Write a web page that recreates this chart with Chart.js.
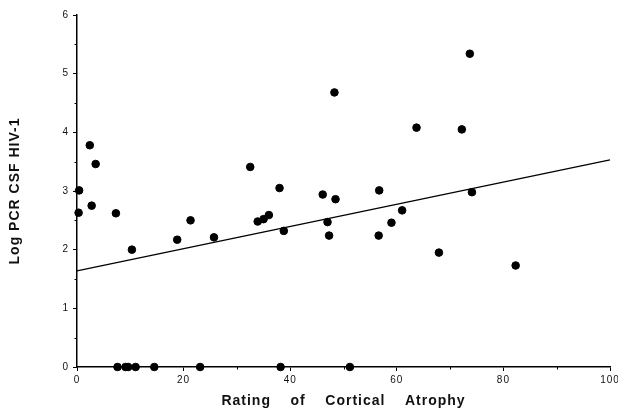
<!DOCTYPE html>
<html>
<head>
<meta charset="utf-8">
<script src="https://cdn.jsdelivr.net/npm/chart.js@4.4.1/dist/chart.umd.min.js"></script>
<style>
  html, body { margin: 0; padding: 0; background: #fff; }
  #wrap { width: 618px; height: 418px; }
</style>
</head>
<body>
<div id="wrap"><canvas id="atrophyChart"></canvas></div>
<script>
// rating of cortical atrophy (x) vs log PCR CSF HIV-1 (y)
const atrophyRating = [
    0.4, 0.3, 2.4, 3.5, 2.75, 7.3, 10.3, 18.8, 21.3, 25.7,
    32.5, 33.9, 35.0, 36.0, 38.0, 38.8, 46.1, 47.0, 47.3, 48.3,
    48.5, 56.6, 56.7, 59.0, 61.0, 63.7, 67.9, 72.2, 73.7, 74.1,
    82.3,
    7.6, 9.1, 9.6, 11.0, 14.5, 23.1, 38.2, 51.2
];
const logPcr = [
    3.01, 2.63, 3.78, 3.46, 2.75, 2.62, 2.00, 2.17, 2.50, 2.21,
    3.41, 2.48, 2.52, 2.59, 3.05, 2.32, 2.94, 2.47, 2.24, 4.68,
    2.86, 2.24, 3.01, 2.46, 2.67, 4.08, 1.95, 4.05, 5.34, 2.98,
    1.73,
    0, 0, 0, 0, 0, 0, 0, 0
];
// fitted line, read at both ends of the x axis
const fitX = [0, 100];
const fitY = [1.64, 3.53];

const xTicks = [0, 20, 40, 60, 80, 100];
const xMinorTicks = [10, 30, 50, 70, 90];
const yTicks = [0, 1, 2, 3, 4, 5, 6];
const yMinorTicks = [0.5, 1.5, 2.5, 3.5, 4.5, 5.5];

const points = atrophyRating.map((x, i) => ({ x: x, y: logPcr[i] }));
const fitLine = fitX.map((x, i) => ({ x: x, y: fitY[i] }));

// the original typesetting is a bit spaced out
const spacedText = {
    id: "spacedText",
    beforeInit(chart) { chart.ctx.letterSpacing = "1px"; },
    beforeDraw(chart) { chart.ctx.letterSpacing = "1px"; }
};

// small minor tick marks on both axes
const minorTicks = {
    id: "minorTicks",
    afterDraw(chart) {
        const c = chart.ctx;
        const xs = chart.scales.x, ys = chart.scales.y;
        c.save();
        c.strokeStyle = "#000";
        c.lineWidth = 1;
        c.beginPath();
        xMinorTicks.forEach(v => {
            const px = Math.round(xs.getPixelForValue(v)) + 0.5;
            c.moveTo(px, ys.bottom);
            c.lineTo(px, ys.bottom + 2.5);
        });
        yMinorTicks.forEach(v => {
            const py = Math.round(ys.getPixelForValue(v)) + 0.5;
            c.moveTo(xs.left, py);
            c.lineTo(xs.left - 2.5, py);
        });
        c.stroke();
        c.restore();
    }
};

new Chart(document.getElementById("atrophyChart"), {
    type: "scatter",
    data: {
        datasets: [
            {
                type: "line",
                data: fitLine,
                borderColor: "#000",
                borderWidth: 1.3,
                pointRadius: 0,
                fill: false,
                clip: false
            },
            {
                data: points,
                backgroundColor: "#000",
                borderColor: "#000",
                pointRadius: 3.8,
                pointHoverRadius: 3.8,
                clip: false
            }
        ]
    },
    options: {
        responsive: true,
        maintainAspectRatio: false,
        animation: false,
        layout: { padding: { top: 15, right: 0, bottom: 0, left: 0 } },
        plugins: {
            legend: { display: false },
            tooltip: { enabled: false }
        },
        scales: {
            x: {
                type: "linear",
                min: 0,
                max: 100,
                afterBuildTicks: axis => { axis.ticks = xTicks.map(v => ({ value: v })); },
                afterFit: axis => { axis.paddingRight = 8; axis.height = 51; },
                border: { color: "#000", width: 1.5 },
                grid: { display: true, drawOnChartArea: false, drawTicks: true, tickLength: 4, color: "#000" },
                ticks: {
                    color: "#111",
                    padding: 3,
                    maxRotation: 0,
                    font: { family: "Liberation Sans, Arial, sans-serif", size: 10 }
                },
                title: {
                    display: true,
                    text: "Rating    of    Cortical    Atrophy",
                    color: "#111",
                    padding: { top: 4, bottom: 8 },
                    font: { family: "Liberation Sans, Arial, sans-serif", size: 14, weight: "bold" }
                }
            },
            y: {
                type: "linear",
                min: 0,
                max: 6,
                afterBuildTicks: axis => { axis.ticks = yTicks.map(v => ({ value: v })); },
                afterFit: axis => { axis.width = 77; },
                border: { color: "#000", width: 1.5 },
                grid: { display: true, drawOnChartArea: false, drawTicks: true, tickLength: 4, color: "#000" },
                ticks: {
                    color: "#111",
                    padding: 4,
                    font: { family: "Liberation Sans, Arial, sans-serif", size: 10 }
                },
                title: {
                    display: true,
                    text: "Log PCR CSF HIV-1",
                    color: "#111",
                    padding: { top: 7, bottom: 0 },
                    font: { family: "Liberation Sans, Arial, sans-serif", size: 14, weight: "bold" }
                }
            }
        }
    },
    plugins: [spacedText, minorTicks]
});
</script>
</body>
</html>
